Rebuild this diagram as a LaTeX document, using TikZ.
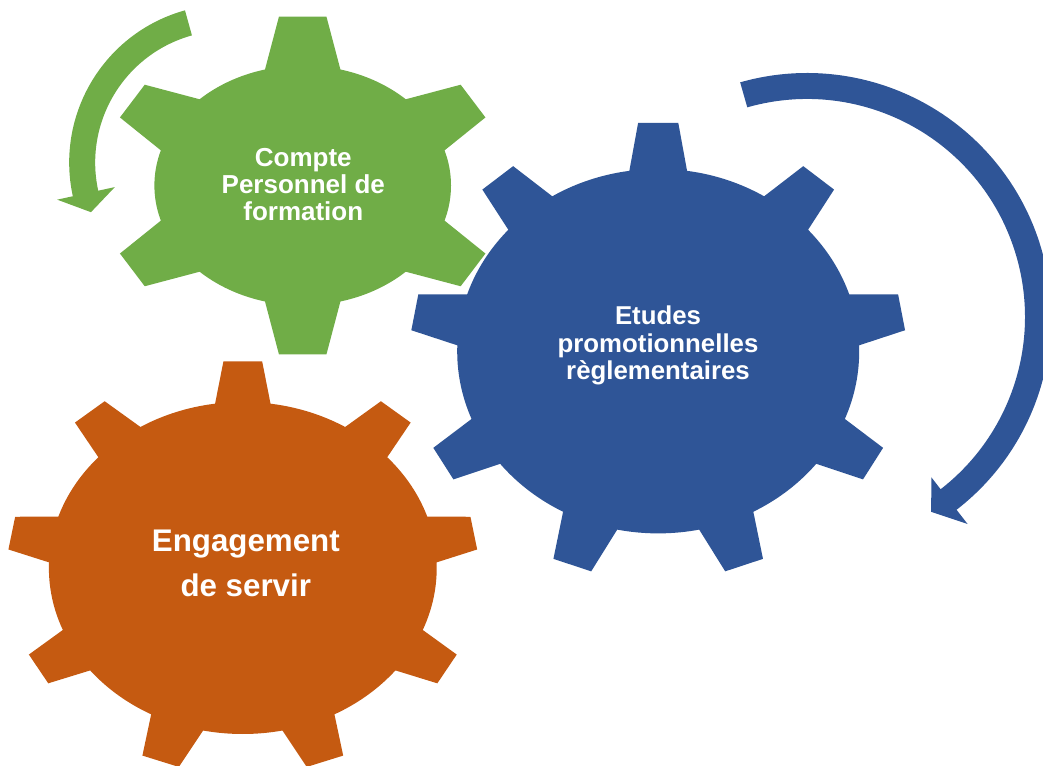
\documentclass[tikz,border=0pt]{standalone}
\usepackage{fontspec}
\setmainfont{Liberation Sans}

\definecolor{gearGreen}{RGB}{112,173,71}
\definecolor{gearBlue}{RGB}{47,85,151}
\definecolor{gearOrange}{RGB}{197,90,17}

\tikzset{
  gearedge/.style={draw=white, line width=3pt},
  geartext/.style={text=white, align=center},
}

% #1 centre, #2 x radius, #3 y radius, #4 tooth angles, #5 tooth length,
% #6 half width at tip, #7 half width at root, #8 colour
\newcommand{\drawgear}[8]{%
  \begin{scope}[shift={#1}, xscale=#2, yscale=#3]
    \draw[gearedge] (0,0) circle (1);
    \foreach \a in {#4} {
      \pgfmathsetmacro\r{1+#5/(#2*sqrt((cos(\a))^2+(#3/#2*sin(\a))^2))}
      \draw[gearedge, rotate=\a] (0.8,-#7) -- (\r,-#6) -- (\r,#6) -- (0.8,#7) -- cycle;
    }
    \fill[#8] (0,0) circle (1);
    \foreach \a in {#4} {
      \pgfmathsetmacro\r{1+#5/(#2*sqrt((cos(\a))^2+(#3/#2*sin(\a))^2))}
      \fill[#8, rotate=\a] (0.8,-#7) -- (\r,-#6) -- (\r,#6) -- (0.8,#7) -- cycle;
    }
  \end{scope}}

\begin{document}
\begin{tikzpicture}[x=1pt, y=1pt]
    \useasboundingbox (0,0) rectangle (1043,765);

    % green turning arrow
    \begin{scope}[shift={(227.2,602.4)}]
        \fill[gearGreen] (105.5:132) arc[start angle=105.5, end angle=192.3, radius=132]
            -- (192.3:115) -- (200:145) -- (192.3:174) -- (192.3:158)
            arc[start angle=192.3, end angle=105.5, radius=158] -- cycle;
    \end{scope}

    % gears
    \drawgear{(302.7,579.5)}{148.3}{119.9}
        {90, 31.5, -31.5, -90, 211.5, 148.5}{49}
        {0.16}{0.29}{gearGreen}
    \drawgear{(242.8,197)}{193.9}{166}
        {90, 50, 10, -30, -70, -110, -150, 170, 130}{40.5}
        {0.10}{0.175}{gearOrange}
    \drawgear{(658.2,413.8)}{201}{182.2}
        {90, 50, 10, -30, -70, -110, -150, 170, 130}{46}
        {0.10}{0.175}{gearBlue}

    % blue turning arrow
    \begin{scope}[shift={(807,448)}]
        \fill[gearBlue] (105.9:218) arc[start angle=105.9, end angle=-52.2, radius=218]
            -- (-52.2:203) -- (-57.5:231) -- (-52.2:262) -- (-52.2:244)
            arc[start angle=-52.2, end angle=105.9, radius=244] -- cycle;
    \end{scope}

    \node[geartext, font=\bfseries\fontsize{26}{27}\selectfont] (cpf) at (303.3,580.7)
        {Compte\\Personnel de\\formation};
    \node[geartext, font=\bfseries\fontsize{25.8}{27.3}\selectfont] (etudes) at (658,419.5)
        {Etudes\\promotionnelles\\règlementaires};
    \node[geartext, font=\bfseries\fontsize{31.3}{45.6}\selectfont] (engagement) at (245.8,201.6)
        {Engagement\\de servir};
\end{tikzpicture}
\end{document}
